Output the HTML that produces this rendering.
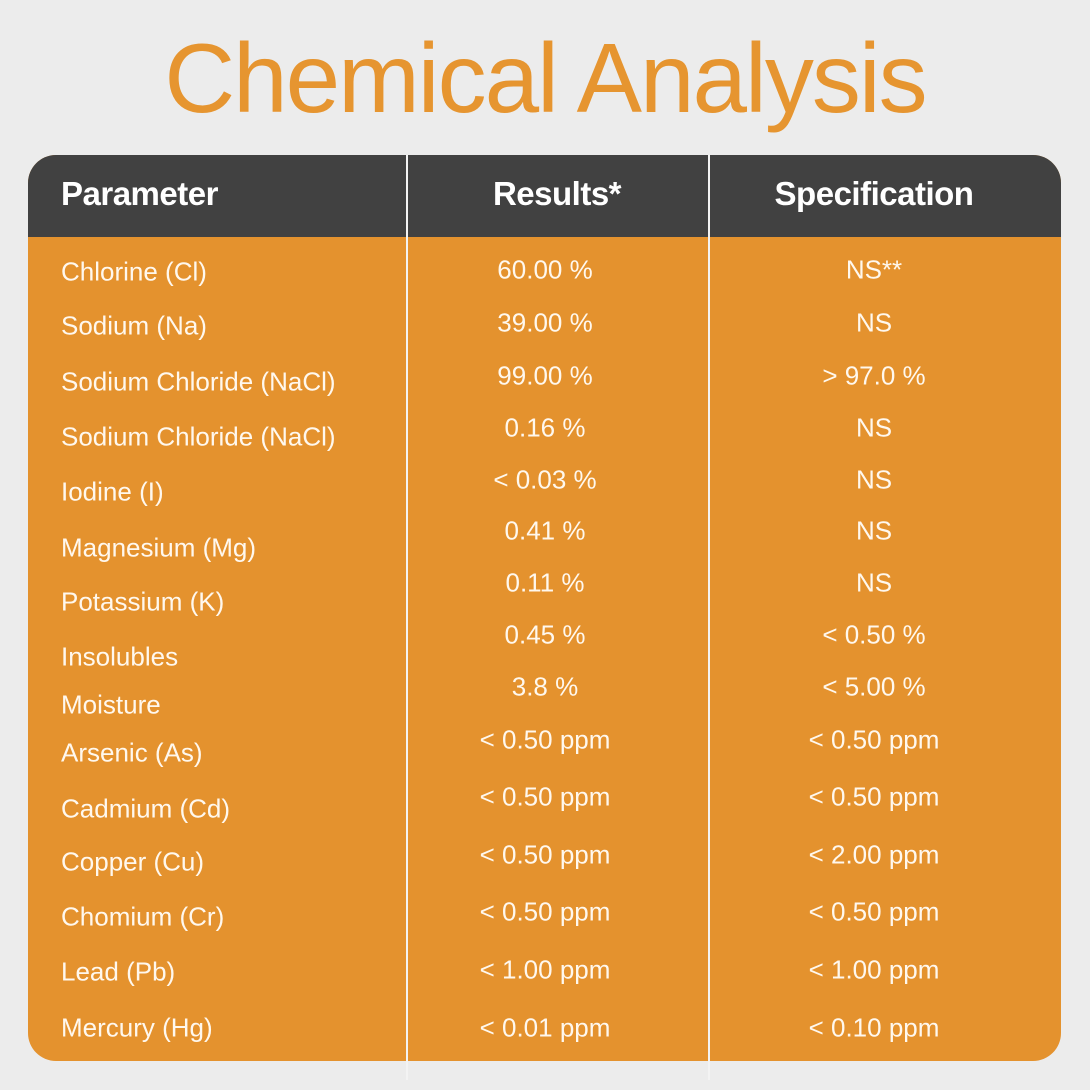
<!DOCTYPE html>
<html><head><style>
body{margin:0;width:1090px;height:1090px;background:#ececec;position:relative;overflow:hidden;font-family:"Liberation Sans",sans-serif}
.t{position:absolute;left:0;width:1090px;text-align:center;top:22px;font-family:"Liberation Sans",sans-serif;font-size:98px;color:#e69530;letter-spacing:-2px}
.tbl{position:absolute;left:28px;top:155px;width:1033px;height:906px;background:#e4922e;border-radius:28px;overflow:hidden}
.hd{position:absolute;left:0;top:0;width:100%;height:82px;background:#414141}
.v{position:absolute;top:155px;width:1.5px;height:925px;background:#f3f3f3}
.h{position:absolute;color:#fff;font-weight:bold;font-size:33px;top:175px;letter-spacing:-0.5px}
.c{position:absolute;color:#fff8ee;font-size:26px;transform:translateY(-50%);white-space:nowrap}
.m{text-align:center;width:300px}
</style></head><body>
<div class="t">Chemical Analysis</div>
<div class="tbl"><div class="hd"></div></div>
<div class="v" style="left:406px"></div>
<div class="v" style="left:708px"></div>
<div class="h" style="left:61px">Parameter</div>
<div class="h" style="left:407px;width:300px;text-align:center">Results*</div>
<div class="h" style="left:724px;width:300px;text-align:center">Specification</div>

<div class="c" style="left:61px;top:272px">Chlorine (Cl)</div>
<div class="c" style="left:61px;top:326px">Sodium (Na)</div>
<div class="c" style="left:61px;top:382px">Sodium Chloride (NaCl)</div>
<div class="c" style="left:61px;top:437px">Sodium Chloride (NaCl)</div>
<div class="c" style="left:61px;top:492px">Iodine (I)</div>
<div class="c" style="left:61px;top:548px">Magnesium (Mg)</div>
<div class="c" style="left:61px;top:602px">Potassium (K)</div>
<div class="c" style="left:61px;top:657px">Insolubles</div>
<div class="c" style="left:61px;top:705px">Moisture</div>
<div class="c" style="left:61px;top:753px">Arsenic (As)</div>
<div class="c" style="left:61px;top:809px">Cadmium (Cd)</div>
<div class="c" style="left:61px;top:862px">Copper (Cu)</div>
<div class="c" style="left:61px;top:917px">Chomium (Cr)</div>
<div class="c" style="left:61px;top:972px">Lead (Pb)</div>
<div class="c" style="left:61px;top:1028px">Mercury (Hg)</div>

<div class="c m" style="left:395px;top:270px">60.00 %</div>
<div class="c m" style="left:395px;top:323px">39.00 %</div>
<div class="c m" style="left:395px;top:376px">99.00 %</div>
<div class="c m" style="left:395px;top:428px">0.16 %</div>
<div class="c m" style="left:395px;top:480px">&lt; 0.03 %</div>
<div class="c m" style="left:395px;top:531px">0.41 %</div>
<div class="c m" style="left:395px;top:583px">0.11 %</div>
<div class="c m" style="left:395px;top:635px">0.45 %</div>
<div class="c m" style="left:395px;top:687px">3.8 %</div>
<div class="c m" style="left:395px;top:740px">&lt; 0.50 ppm</div>
<div class="c m" style="left:395px;top:797px">&lt; 0.50 ppm</div>
<div class="c m" style="left:395px;top:855px">&lt; 0.50 ppm</div>
<div class="c m" style="left:395px;top:912px">&lt; 0.50 ppm</div>
<div class="c m" style="left:395px;top:970px">&lt; 1.00 ppm</div>
<div class="c m" style="left:395px;top:1028px">&lt; 0.01 ppm</div>

<div class="c m" style="left:724px;top:270px">NS**</div>
<div class="c m" style="left:724px;top:323px">NS</div>
<div class="c m" style="left:724px;top:376px">&gt; 97.0 %</div>
<div class="c m" style="left:724px;top:428px">NS</div>
<div class="c m" style="left:724px;top:480px">NS</div>
<div class="c m" style="left:724px;top:531px">NS</div>
<div class="c m" style="left:724px;top:583px">NS</div>
<div class="c m" style="left:724px;top:635px">&lt; 0.50 %</div>
<div class="c m" style="left:724px;top:687px">&lt; 5.00 %</div>
<div class="c m" style="left:724px;top:740px">&lt; 0.50 ppm</div>
<div class="c m" style="left:724px;top:797px">&lt; 0.50 ppm</div>
<div class="c m" style="left:724px;top:855px">&lt; 2.00 ppm</div>
<div class="c m" style="left:724px;top:912px">&lt; 0.50 ppm</div>
<div class="c m" style="left:724px;top:970px">&lt; 1.00 ppm</div>
<div class="c m" style="left:724px;top:1028px">&lt; 0.10 ppm</div>
</body></html>
